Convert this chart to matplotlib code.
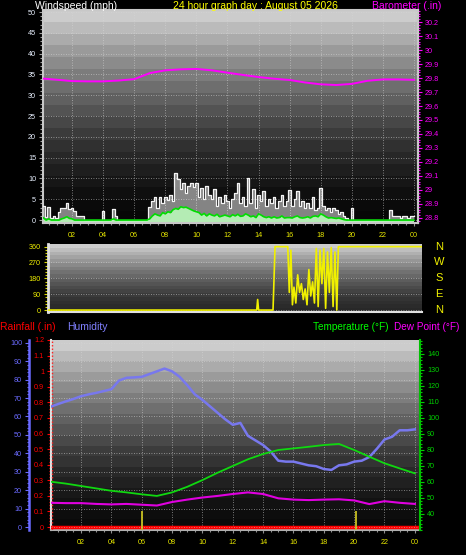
import numpy as np
import matplotlib.pyplot as plt
import matplotlib.transforms as mtransforms
from matplotlib.ticker import MultipleLocator, FuncFormatter

plt.rcParams['font.family'] = ['Liberation Sans', 'DejaVu Sans']

# ---------------- data ----------------
hour_ticks = [2, 4, 6, 8, 10, 12, 14, 16, 18, 20, 22, 24]
hour_labels = ['02', '04', '06', '08', '10', '12', '14', '16', '18', '20', '22', '00']

# wind, 10 minute samples (mph), one row per hour
wind_gust = [
    4.4, 3.5, 0.8, 3.2, 0.6, 1.0,
    0.5, 2.0, 2.8, 3.0, 4.2, 2.6,
    3.0, 2.2, 1.0, 1.0, 1.0, 0.0,
    0.0, 0.0, 0.0, 0.0, 0.0, 0.0,
    2.2, 0.0, 0.0, 0.0, 2.6, 1.0,
    0.0, 0.0, 0.0, 0.0, 0.0, 0.0,
    0.0, 0.0, 0.0, 0.0, 0.0, 0.0,
    3.2, 4.5, 5.5, 3.0, 5.6, 4.0,
    5.5, 4.8, 6.0, 4.5, 11.4, 9.8,
    7.5, 9.0, 6.5, 8.2, 9.0, 8.0,
    9.0, 5.5, 7.8, 5.0, 8.2, 6.0,
    5.0, 7.5, 3.5, 5.5, 4.0, 6.0,
    4.5, 3.0, 5.0, 6.5, 9.0, 4.0,
    5.5, 3.5, 10.2, 4.0, 7.5, 3.0,
    6.0, 4.5, 7.0, 3.5, 5.0, 4.0,
    5.5, 3.0, 4.5, 6.0, 3.5, 4.5,
    7.2, 3.5, 5.0, 7.0, 3.5, 4.5,
    3.0, 4.0, 3.0, 5.5, 2.5, 3.0,
    7.8, 3.5, 2.5, 3.0, 2.0, 2.8,
    2.5, 1.5, 2.0, 1.0, 0.5, 0.0,
    3.0, 0.0, 0.0, 0.0, 0.0, 0.0,
    0.0, 0.0, 0.0, 0.0, 0.0, 0.0,
    0.0, 0.0, 0.0, 2.5, 1.0, 1.0,
    1.0, 0.5, 1.0, 1.0, 0.5, 1.0,
    1.0,
]
wind_avg = [
    1.0, 0.5, 0.0, 0.3, 0.0, 0.0,
    0.0, 0.0, 0.3, 0.5, 0.8, 0.4,
    0.3, 0.0, 0.0, 0.0, 0.0, 0.0,
    0.0, 0.0, 0.0, 0.0, 0.0, 0.0,
    0.0, 0.0, 0.0, 0.0, 0.3, 0.0,
    0.0, 0.0, 0.0, 0.0, 0.0, 0.0,
    0.0, 0.0, 0.0, 0.0, 0.0, 0.0,
    0.3, 1.0, 1.5, 1.2, 1.0, 1.8,
    1.5, 2.0, 1.8, 2.5, 2.8, 2.6,
    3.2, 3.0, 3.1, 2.8, 2.5, 2.2,
    2.0, 1.8, 1.2, 1.6, 1.0, 1.5,
    1.2, 1.0, 1.4, 0.8, 1.0, 1.2,
    1.0, 0.8, 1.3, 1.0, 1.4, 0.9,
    1.0, 1.5, 1.2, 0.8, 1.0, 0.6,
    1.5, 1.2, 0.8, 0.6, 0.8, 0.5,
    0.8, 0.5, 0.6, 1.0, 0.5, 0.6,
    0.6, 0.5, 0.8, 1.0, 0.6, 0.5,
    0.6, 0.8, 0.5, 0.9, 1.0, 0.8,
    1.5, 1.2, 0.8, 0.5, 0.6, 0.5,
    0.4, 0.5, 0.3, 0.1, 0.0, 0.0,
    0.0, 0.0, 0.0, 0.0, 0.0, 0.0,
    0.0, 0.0, 0.0, 0.0, 0.0, 0.0,
    0.0, 0.0, 0.0, 0.0, 0.0, 0.0,
    0.0, 0.0, 0.0, 0.0, 0.0, 0.0,
    0.0,
]
wind_hours = np.arange(len(wind_gust)) / 6.0

baro_hours = list(range(25))
barometer = [29.797, 29.788, 29.778, 29.776, 29.776, 29.782, 29.792, 29.835,
             29.855, 29.862, 29.865, 29.855, 29.838, 29.822, 29.807, 29.795,
             29.786, 29.768, 29.755, 29.750, 29.758, 29.780, 29.790, 29.790,
             29.787]

dir_hours = [0.0, 13.60, 13.66, 13.72, 14.65, 14.78, 15.60,
             15.70, 15.80, 15.90, 16.00, 16.12, 16.24, 16.36, 16.48, 16.60,
             16.72, 16.84, 16.96, 17.08, 17.20, 17.32, 17.44, 17.56, 17.68,
             17.80, 17.92, 18.04, 18.16, 18.28, 18.40, 18.52, 18.64, 18.76,
             18.86, 24.30]
wind_dir = [0, 0, 60, 0, 0, 360, 360,
            100, 340, 30, 130, 40, 200, 100, 150, 60,
            120, 30, 230, 80, 160, 40, 350, 20, 340,
            150, 350, 10, 330, 100, 355, 20, 330, 0,
            360, 360]
compass_points = ['N', 'W', 'S', 'E', 'N']
compass_degrees = [360, 270, 180, 90, 0]

hum_hours = np.arange(49) * 0.5
humidity = [65.3, 66.8, 68.2, 69.5, 71.0, 72.0, 72.8, 73.8, 74.8, 79.5,
            81.0, 81.2, 81.5, 83.0, 84.5, 86.0, 84.5, 81.5, 77.0, 72.0,
            69.0, 65.5, 62.0, 58.5, 55.5, 56.5, 49.5, 47.0, 44.5, 41.0,
            36.0, 35.5, 35.5, 34.5, 33.5, 33.0, 31.5, 31.0, 33.5, 34.0,
            35.5, 36.0, 38.0, 42.5, 47.5, 49.0, 52.5, 52.5, 53.0]

temp_hours = list(range(25))
temperature = [60.2, 59.0, 57.5, 56.0, 54.5, 53.5, 52.3, 51.3, 53.5, 57.0,
               61.2, 65.8, 70.0, 74.2, 77.5, 80.0, 81.0, 82.0, 83.1, 83.8,
               80.0, 75.8, 71.7, 68.5, 65.4]
dewpoint = [47.0, 46.8, 46.8, 46.3, 46.0, 46.3, 45.8, 45.3, 47.5, 49.0,
            50.3, 51.3, 52.5, 53.5, 52.5, 49.8, 49.0, 48.7, 49.0, 49.2,
            48.5, 46.2, 48.0, 47.0, 46.3]
temp_ticks = [40, 50, 60, 70, 80, 90, 100, 110, 120, 130, 140]

rain_hours = [0.0, 24.34]
rainfall = [0.0, 0.0]
rain_mark_hours = [6.05, 20.1]
rain_mark_height = [0.1, 0.1]

# ---------------- helpers ----------------
W, H = 466, 555


def px_rect(x0, y0, x1, y1):
    return [x0 / W, 1 - y1 / H, (x1 - x0) / W, (y1 - y0) / H]


def fig_text(fig, x, y, s, color, size=7.5):
    fig.text(x / W, 1 - y / H, s, color=color, fontsize=size, ha='left', va='center')


def gradient(ax, top, bottom, bands=18):
    t = np.linspace(0, 1, bands)
    v = bottom + (top - bottom) * (1 - t) ** 1.5
    ax.imshow(v[:, None], cmap='gray', vmin=0, vmax=1, extent=[0, 1, 0, 1],
              transform=ax.transAxes, aspect='auto', interpolation='nearest', zorder=0)


num_fmt = FuncFormatter(lambda v, p: f'{round(v, 1):g}')
GRID = dict(color='#d8d8d8', lw=0.6, ls=(0, (1, 2)), alpha=0.7)

fig = plt.figure(figsize=(W / 100, H / 100), dpi=100, facecolor='black')

# ---------------- top: wind + barometer ----------------
ax1 = fig.add_axes(px_rect(43, 10, 418, 223))
gradient(ax1, 0.80, 0.03)
ax1.fill_between(wind_hours, -0.7, wind_avg, step='mid', color='#b4ecb4', lw=0, zorder=2)
ax1.fill_between(wind_hours, wind_avg, wind_gust, step='mid', color='white', alpha=0.5, lw=0, zorder=2)
ax1.step(wind_hours, wind_gust, where='mid', color='#f4f4f4', lw=0.9, zorder=3)
ax1.plot(wind_hours, wind_avg, color='#00dd00', lw=1.2, zorder=4)
ax1.set_xlim(0.13, 24.26)
ax1.set_ylim(-0.7, 50.5)
ax1.yaxis.set_major_locator(MultipleLocator(5))
ax1.yaxis.set_minor_locator(MultipleLocator(1))
ax1.set_xticks(hour_ticks)
ax1.set_xticklabels(hour_labels)
ax1.xaxis.set_minor_locator(MultipleLocator(0.5))
ax1.tick_params(axis='y', which='both', colors='#a0a0a0', labelcolor='#e8f0ff',
                labelsize=5.2, length=3, width=0.8, pad=2)
ax1.tick_params(axis='y', which='minor', length=2)
ax1.tick_params(axis='x', which='both', colors='#909090', labelcolor='#e8e800',
                labelsize=5.2, length=2.5, width=0.8, pad=4)
ax1.tick_params(axis='x', which='minor', length=1.5)
ax1.grid(True, which='major', **GRID)
for s in ax1.spines.values():
    s.set_color('#c8c8c8')
    s.set_linewidth(1.5)

axb = ax1.twinx()
axb.plot(baro_hours, barometer, color='#ff00ff', lw=1.4)
axb.set_ylim(28.764, 30.286)
axb.yaxis.set_major_locator(MultipleLocator(0.1))
axb.yaxis.set_minor_locator(MultipleLocator(0.02))
axb.yaxis.set_major_formatter(num_fmt)
axb.tick_params(axis='y', which='both', colors='#ff00ff', labelsize=5.2, length=3, width=0.8, pad=2)
axb.tick_params(axis='y', which='minor', length=1.5)
for k, s in axb.spines.items():
    s.set_visible(k == 'right')
axb.spines['right'].set_color('#c8c8c8')
axb.spines['right'].set_linewidth(1.5)

# ---------------- middle: wind direction ----------------
ax2 = fig.add_axes(px_rect(48, 244, 422, 312))
gradient(ax2, 0.80, 0.16)
ax2.plot(dir_hours, wind_dir, color='#f0f000', lw=1.2, zorder=3)
ax2.set_xlim(0.15, 24.25)
ax2.set_ylim(-11, 375)
ax2.set_yticks(compass_degrees)
ax2.yaxis.set_minor_locator(MultipleLocator(18))
ax2.set_xticks([])
ax2.tick_params(axis='y', which='both', colors='#d8d800', labelcolor='#f0f000',
                labelsize=5.2, length=3, width=0.8, pad=2)
ax2.tick_params(axis='y', which='minor', length=2)
ax2.grid(True, axis='y', **GRID)
ax2.spines['top'].set_visible(False)
ax2.spines['right'].set_visible(False)
ax2.spines['left'].set_color('#e0e0e0')
ax2.spines['left'].set_linewidth(2)
ax2.spines['bottom'].set_color('#e0e0e0')
ax2.spines['bottom'].set_linewidth(1.5)
trans = mtransforms.blended_transform_factory(ax2.transAxes, ax2.transData)
for deg, lab in zip(compass_degrees, compass_points):
    ax2.text(1.045, deg, lab, transform=trans, color='#f0f000', fontsize=8,
             ha='center', va='center')

# ---------------- bottom: rain, humidity, temperature ----------------
ax3 = fig.add_axes(px_rect(51, 340, 420, 530))
gradient(ax3, 0.80, 0.04)
ax3.plot(rain_hours, rainfall, color='#ff0000', lw=2.5, zorder=3)
ax3.vlines(rain_mark_hours, -0.019, rain_mark_height, color='#c8c020', lw=1.3, zorder=3)
ax3.axvline(0.09, color='#ff2020', lw=1, ls=(0, (1, 1.5)), zorder=4)
ax3.set_xlim(0.02, 24.34)
ax3.set_ylim(-0.019, 1.2)
ax3.yaxis.set_major_locator(MultipleLocator(0.1))
ax3.yaxis.set_minor_locator(MultipleLocator(0.02))
ax3.yaxis.set_major_formatter(num_fmt)
ax3.set_xticks(hour_ticks)
ax3.set_xticklabels(hour_labels)
ax3.xaxis.set_minor_locator(MultipleLocator(0.5))
ax3.tick_params(axis='y', which='both', colors='#ff0000', labelsize=5.2, length=3, width=0.8, pad=2)
ax3.tick_params(axis='y', which='minor', length=1.5)
ax3.tick_params(axis='x', which='both', colors='#909090', labelcolor='#e8e800',
                labelsize=5.2, length=2.5, width=0.8, pad=4)
ax3.tick_params(axis='x', which='minor', length=1.5)
ax3.grid(True, axis='x', which='major', **GRID)
ax3.spines['top'].set_visible(False)
ax3.spines['right'].set_visible(False)
ax3.spines['left'].set_color('#e0e0e0')
ax3.spines['left'].set_linewidth(1.5)
ax3.spines['bottom'].set_color('#b0b0b0')
ax3.spines['bottom'].set_linewidth(1.5)

axh = ax3.twinx()
axh.plot(hum_hours, humidity, color='#7878ee', lw=1.8)
axh.set_ylim(-1.6, 101.5)
axh.yaxis.tick_left()
axh.yaxis.set_major_locator(MultipleLocator(10))
axh.yaxis.set_minor_locator(MultipleLocator(2))
axh.grid(True, axis='y', which='major', **GRID)
for k, s in axh.spines.items():
    s.set_visible(k == 'left')
axh.spines['left'].set_position(('outward', 15.8))
axh.spines['left'].set_color('#6a6aff')
axh.spines['left'].set_linewidth(1.8)
axh.tick_params(axis='y', which='both', colors='#6a6aff', labelsize=5.2, length=3, width=0.8, pad=2)
axh.tick_params(axis='y', which='minor', length=1.5)

axt = ax3.twinx()
axt.plot(temp_hours, temperature, color='#10d810', lw=1.3)
axt.plot(temp_hours, dewpoint, color='#e000e0', lw=1.5)
axt.set_ylim(30, 148.75)
axt.set_yticks(temp_ticks)
axt.yaxis.set_minor_locator(MultipleLocator(2))
for k, s in axt.spines.items():
    s.set_visible(k == 'right')
axt.spines['right'].set_color('#00c000')
axt.spines['right'].set_linewidth(1.5)
axt.tick_params(axis='y', which='both', colors='#00d000', labelsize=5.2, length=3, width=0.8, pad=2)
axt.tick_params(axis='y', which='minor', length=1.5)

# ---------------- header texts ----------------
fig_text(fig, 35, 6, 'Windspeed (mph)', 'white')
fig_text(fig, 173, 6, '24 hour graph day : August 05 2026', '#ffff00')
fig_text(fig, 372, 6, 'Barometer (.in)', '#ff00ff')
fig_text(fig, 0, 327, 'Rainfall (.in)', '#ff0000')
fig_text(fig, 67, 327, 'Humidity', '#8080ff')
fig_text(fig, 313, 327, 'Temperature (°F)', '#00ff00', size=7.2)
fig_text(fig, 394, 327, 'Dew Point (°F)', '#ff00ff', size=7.2)

fig.savefig('out.png', dpi=100, facecolor='black')
